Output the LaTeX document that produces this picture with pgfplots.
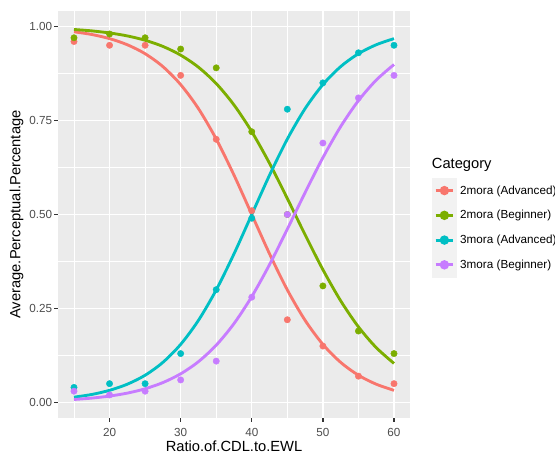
\documentclass[border=0pt]{standalone}
\usepackage{fontspec}
\setmainfont{Liberation Sans}
\usepackage{pgfplots}
\pgfplotsset{compat=1.18}
\definecolor{cA}{HTML}{F8766D}
\definecolor{cB}{HTML}{7CAE00}
\definecolor{cC}{HTML}{00BFC4}
\definecolor{cD}{HTML}{C77CFF}
\definecolor{panel}{HTML}{EBEBEB}
\definecolor{keybg}{HTML}{F2F2F2}
\definecolor{tickc}{HTML}{333333}
\definecolor{labc}{HTML}{4D4D4D}
\begin{document}
\begin{tikzpicture}
\useasboundingbox (-58pt,-37pt) rectangle (497pt,418pt);
\begin{axis}[
 at={(0pt,0pt)}, anchor=south west,
 scale only axis, width=352pt, height=407pt,
 xmin=12.75, xmax=62.25, ymin=-0.0413, ymax=1.0412,
 axis background/.style={fill=panel},
 axis line style={draw=none},
 xtick={20,30,40,50,60}, xticklabels={20,30,40,50,60},
 ytick={0,0.25,0.5,0.75,1}, yticklabels={0.00,0.25,0.50,0.75,1.00},
 minor xtick={15,25,35,45,55},
 minor ytick={0.125,0.375,0.625,0.875},
 grid=both,
 major grid style={white, line width=1.42pt},
 minor grid style={white, line width=0.71pt},
 tick pos=left, tick align=outside,
 major tick length=3.7pt, minor tick length=0pt,
 every tick/.style={tickc, line width=1.42pt},
 tick label style={font=\fontsize{11.7}{14}\selectfont, text=labc},
 yticklabel style={inner sep=0pt, anchor=east, xshift=-2pt},
 xticklabel style={inner sep=0pt, anchor=north, yshift=-6pt},
 xlabel={Ratio.of.CDL.to.EWL}, ylabel={Average.Perceptual.Percentage},
 label style={font=\fontsize{14.7}{17}\selectfont},
 xlabel style={at={(axis description cs:0.5,-0.0828)}, anchor=base, inner sep=0pt},
 ylabel style={at={(axis description cs:-0.118,0.5)}, anchor=center},
 legend style={at={(axis description cs:1.0616,0.5910)}, anchor=north west,
   draw=none, fill=none, inner sep=0pt, row sep=-1.1pt,
   nodes={inner sep=0pt}, font=\fontsize{11.7}{14}\selectfont, cells={anchor=west}},
 legend cell align=left,
 legend image code/.code={
   \fill[keybg] (0pt,-11.5pt) rectangle (22pt,11.5pt);
   \draw[#1,line width=2.85pt] (2.3pt,0pt) -- (20pt,0pt);
   \fill[#1] (11.1pt,0pt) circle (3.2pt);
   \path (25.5pt,0pt);
 },
]
% points
\addplot[only marks, mark=*, mark size=3.2pt, color=cA, mark options={draw=none, fill=cA}, forget plot]
 coordinates {(15,0.96)(20,0.95)(25,0.95)(30,0.87)(35,0.70)(40,0.51)(45,0.22)(50,0.15)(55,0.07)(60,0.05)};
\addplot[only marks, mark=*, mark size=3.2pt, color=cB, mark options={draw=none, fill=cB}, forget plot]
 coordinates {(15,0.97)(20,0.98)(25,0.97)(30,0.94)(35,0.89)(40,0.72)(45,0.50)(50,0.31)(55,0.19)(60,0.13)};
\addplot[only marks, mark=*, mark size=3.2pt, color=cC, mark options={draw=none, fill=cC}, forget plot]
 coordinates {(15,0.04)(20,0.05)(25,0.05)(30,0.13)(35,0.30)(40,0.49)(45,0.78)(50,0.85)(55,0.93)(60,0.95)};
\addplot[only marks, mark=*, mark size=3.2pt, color=cD, mark options={draw=none, fill=cD}, forget plot]
 coordinates {(15,0.03)(20,0.02)(25,0.03)(30,0.06)(35,0.11)(40,0.28)(45,0.50)(50,0.69)(55,0.81)(60,0.87)};
% fitted curves
\addplot[color=cA, line width=2.85pt, smooth, no marks] coordinates {
(15,0.9859)(17.5,0.9787)(20,0.9677)(22.5,0.9514)(25,0.9276)(27.5,0.8933)(30,0.8455)(32.5,0.7816)(35,0.7006)(37.5,0.6047)(40,0.5)(42.5,0.3953)(45,0.2994)(47.5,0.2184)(50,0.1545)(52.5,0.1067)(55,0.0724)(57.5,0.0486)(60,0.0323)};
\addlegendentry{2mora (Advanced)}
\addplot[color=cB, line width=2.85pt, smooth, no marks] coordinates {
(15,0.9920)(17.5,0.9883)(20,0.9828)(22.5,0.9749)(25,0.9634)(27.5,0.9470)(30,0.9238)(32.5,0.8917)(35,0.8482)(37.5,0.7913)(40,0.7202)(42.5,0.6360)(45,0.5425)(47.5,0.4460)(50,0.3533)(52.5,0.2705)(55,0.2011)(57.5,0.1459)(60,0.1039)};
\addlegendentry{2mora (Beginner)}
\addplot[color=cC, line width=2.85pt, smooth, no marks] coordinates {
(15,0.0141)(17.5,0.0213)(20,0.0323)(22.5,0.0486)(25,0.0724)(27.5,0.1067)(30,0.1545)(32.5,0.2184)(35,0.2994)(37.5,0.3953)(40,0.5)(42.5,0.6047)(45,0.7006)(47.5,0.7816)(50,0.8455)(52.5,0.8933)(55,0.9276)(57.5,0.9514)(60,0.9677)};
\addlegendentry{3mora (Advanced)}
\addplot[color=cD, line width=2.85pt, smooth, no marks] coordinates {
(15,0.0079)(17.5,0.0116)(20,0.0170)(22.5,0.0249)(25,0.0364)(27.5,0.0529)(30,0.0762)(32.5,0.1085)(35,0.1524)(37.5,0.2098)(40,0.2817)(42.5,0.3668)(45,0.4611)(47.5,0.5582)(50,0.6511)(52.5,0.7338)(55,0.8028)(57.5,0.8574)(60,0.8988)};
\addlegendentry{3mora (Beginner)}
\end{axis}
\node[anchor=base west, inner sep=0pt, font=\fontsize{14.7}{17}\selectfont] at (373.7pt,249pt) {Category};
\end{tikzpicture}
\end{document}
